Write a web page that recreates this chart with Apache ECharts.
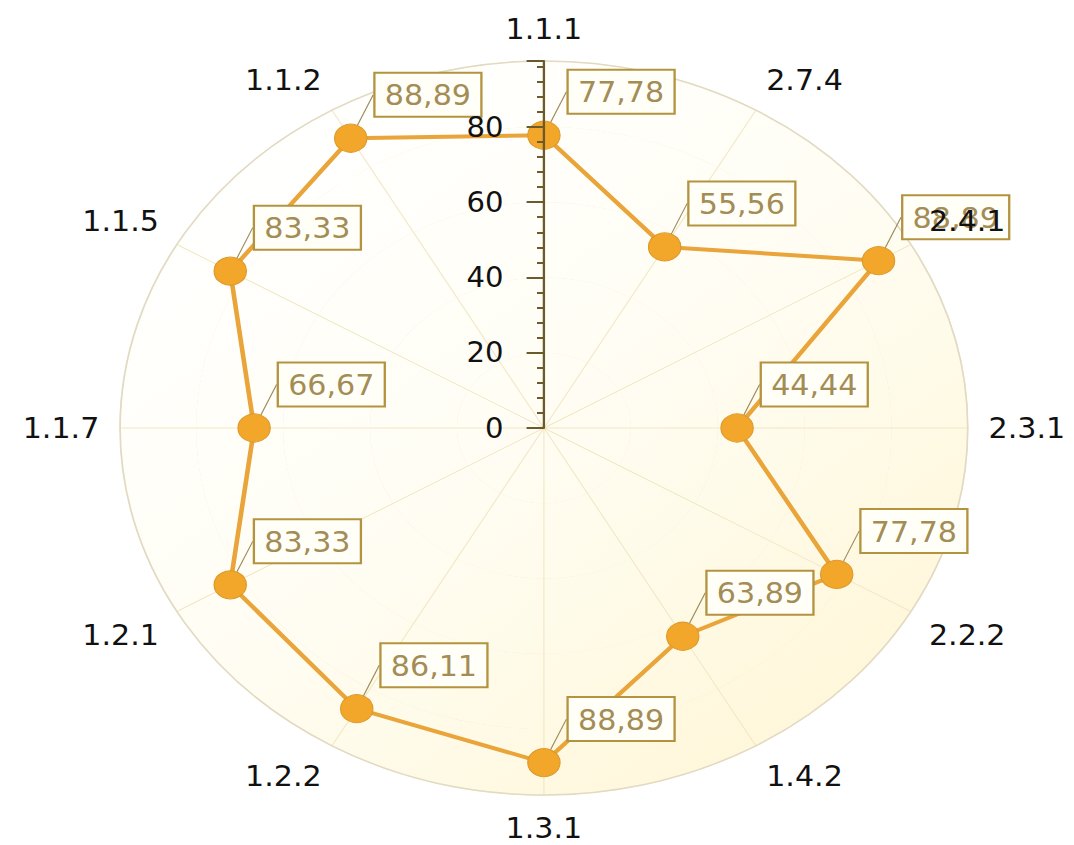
<!DOCTYPE html>
<html><head><meta charset="utf-8">
<script src="https://cdn.jsdelivr.net/npm/echarts@6/dist/echarts.min.js"></script>
<style>
html,body{margin:0;padding:0;background:#fff;overflow:hidden}
#wrap{width:1074px;height:845px;overflow:hidden;position:relative}
#c{width:930px;height:845px;transform:scaleX(1.1548);transform-origin:0 0}
</style>
</head><body><div id="wrap"><div id="c"></div></div>
<script>
const categories = ['1.1.1','2.7.4','2.4.1','2.3.1','2.2.2','1.4.2','1.3.1','1.2.2','1.2.1','1.1.7','1.1.5','1.1.2'];
const values = [77.78, 55.56, 88.89, 44.44, 77.78, 63.89, 88.89, 86.11, 83.33, 66.67, 83.33, 88.89];
const radiusTickLabels = [0, 20, 40, 60, 80];
const radiusMax = 97.5;

const FONT = "'DejaVu Sans Condensed', 'Liberation Sans', sans-serif";
const fmt = v => Number(v).toFixed(2).replace('.', ',');
const CENTER = [471, 428];
const RADIUS = 367;
const N = categories.length;

const bgGrad = {
  type: 'linear', x: 230, y: 120, x2: 760, y2: 760, global: true,
  colorStops: [
    { offset: 0, color: '#FFFFFF' },
    { offset: 0.5, color: '#FFFDF2' },
    { offset: 1, color: '#FFF6D6' }
  ]
};
const axisDark = '#6B5A2A';
const lineColor = '#E9A43A';

// points of the polygon (angle = category index), closed by returning to the first one
const seriesData = values.map((v, i) => [v, i]);
seriesData.push({
  value: [values[0], N],
  symbol: 'none', symbolSize: 0,
  label: { show: false }, labelLine: { show: false }
});

const chart = echarts.init(document.getElementById('c'), null, { renderer: 'svg' });
chart.setOption({
  animation: false,
  backgroundColor: '#FFFFFF',
  polar: [
    { center: CENTER, radius: RADIUS },
    { center: CENTER, radius: RADIUS }
  ],
  angleAxis: [
    {
      polarIndex: 0, type: 'value', min: 0, max: N, interval: 1,
      startAngle: 90, clockwise: true, z: 0,
      axisLine: { show: true, lineStyle: { color: '#E2DAC2', width: 1.5 } },
      axisTick: { show: false }, axisLabel: { show: false },
      splitLine: { show: true, lineStyle: { color: '#F2E8C6', width: 1 } },
      splitArea: { show: false }
    },
    {
      polarIndex: 1, type: 'category', data: categories, boundaryGap: false,
      startAngle: 90, clockwise: true, z: 10,
      axisLine: { show: false }, axisTick: { show: false },
      splitLine: { show: false }, splitArea: { show: false },
      axisLabel: { show: true, margin: 18, color: '#111111', fontFamily: FONT, fontSize: 29 }
    }
  ],
  radiusAxis: [
    {
      polarIndex: 0, type: 'value', min: 0, max: radiusMax, interval: 20, z: 0,
      axisLine: { show: false }, axisTick: { show: false }, axisLabel: { show: false },
      splitLine: { show: true, lineStyle: { color: '#F0E6C4', width: 1 } },
      splitArea: { show: true, areaStyle: { color: [bgGrad, bgGrad] } }
    },
    {
      polarIndex: 1, type: 'value', min: 0, max: radiusMax, interval: 20, z: 10,
      axisLine: { show: true, lineStyle: { color: axisDark, width: 2 } },
      axisTick: { show: true, length: 15, lineStyle: { color: axisDark, width: 2 } },
      minorTick: { show: true, splitNumber: 5, length: 6, lineStyle: { color: axisDark, width: 2 } },
      splitLine: { show: false }, splitArea: { show: false },
      axisLabel: {
        show: true, margin: 35, color: '#111111', fontFamily: FONT, fontSize: 28,
        formatter: v => radiusTickLabels.includes(v) ? String(v) : ''
      }
    }
  ],
  series: [
    {
      type: 'line', coordinateSystem: 'polar', polarIndex: 0, z: 3,
      data: seriesData,
      symbol: 'circle', symbolSize: 28,
      itemStyle: { color: '#F2A72A', borderColor: '#DD992A', borderWidth: 1 },
      lineStyle: { color: lineColor, width: 4 },
      label: {
        show: true,
        formatter: p => fmt(Array.isArray(p.value) ? p.value[0] : p.value),
        fontFamily: FONT, fontSize: 29, lineHeight: 29, color: '#A38C55',
        backgroundColor: '#FFFFF8', borderColor: '#B3933F', borderWidth: 2,
        padding: [7, 8, 6, 8]
      },
      labelLayout: p => ({
        x: p.rect.x + p.rect.width + 7,
        y: p.rect.y - 8,
        align: 'left', verticalAlign: 'bottom'
      }),
      labelLine: { show: true, lineStyle: { color: '#9C8A5A', width: 1 } }
    }
  ]
});
</script>
</body></html>
